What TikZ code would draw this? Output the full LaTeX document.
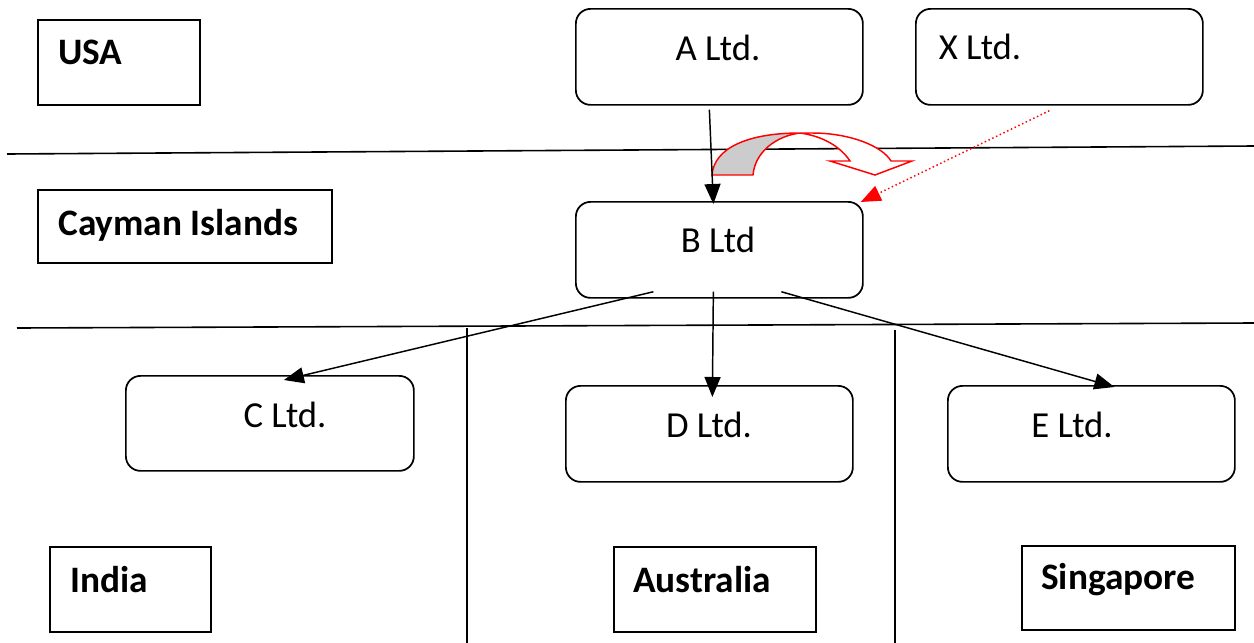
\documentclass[tikz,border=0pt]{standalone}
\usepackage{fontspec}
\setmainfont{Carlito}
\usetikzlibrary{arrows.meta,calc}
\begin{document}
\begin{tikzpicture}[x=0.75pt,y=-0.75pt,
  region/.style={draw,line width=1.3pt,inner sep=0pt,anchor=north west},
  entity/.style={draw,line width=1.3pt,rounded corners=11pt,inner sep=0pt,anchor=north west},
  rtext/.style={anchor=west,inner sep=0pt,font=\fontsize{28}{32}\selectfont\bfseries},
  etext/.style={inner sep=0pt,font=\fontsize{27.5}{32}\selectfont},
  sep/.style={line width=1.2pt},
  link/.style={line width=1.1pt,-{Triangle[length=15pt,width=12pt]}},
  rlink/.style={red,line width=1.1pt,dotted,-{Triangle[length=15pt,width=12pt]}}]
\useasboundingbox (0,0) rectangle (1254,643);
% separators
\coordinate (h1a) at (7,154); \coordinate (h1b) at (1254,146);
\coordinate (h2a) at (17,328); \coordinate (h2b) at (1254,323);
\coordinate (v1a) at (467,328); \coordinate (v1b) at (467,643);
\coordinate (v2a) at (895,330); \coordinate (v2b) at (895,643);
\draw[sep] (h1a) -- (h1b);
\draw[sep] (h2a) -- (h2b);
\draw[sep] (v1a) -- (v1b);
\draw[sep] (v2a) -- (v2b);
% region boxes
\node[region,minimum width=162*0.75pt,minimum height=85*0.75pt] (usa) at (37,19) {};
\node[rtext] (usat) at (58,52) {USA};
\node[region,minimum width=294*0.75pt,minimum height=73*0.75pt] (cay) at (37,189) {};
\node[rtext] (cayt) at (58,225) {Cayman Islands};
\node[region,minimum width=161*0.75pt,minimum height=85*0.75pt] (ind) at (49,546) {};
\node[rtext] (indt) at (70,580) {India};
\node[region,minimum width=202*0.75pt,minimum height=85*0.75pt] (aus) at (613,546) {};
\node[rtext] (aust) at (633,580) {Australia};
\node[region,minimum width=213*0.75pt,minimum height=84*0.75pt] (sin) at (1021,545) {};
\node[rtext] (sint) at (1041,580) {Singapore};
% entity boxes
\node[entity,minimum width=287*0.75pt,minimum height=96*0.75pt] (A) at (575,8) {};
\node[etext] at (718,48) {A Ltd.};
\node[entity,minimum width=287*0.75pt,minimum height=96*0.75pt] (X) at (915,8) {};
\node[etext] at (980,47) {X Ltd.};
\node[entity,minimum width=287*0.75pt,minimum height=96*0.75pt] (B) at (575,201) {};
\node[etext] at (718,240) {B Ltd};
\node[entity,minimum width=288*0.75pt,minimum height=95*0.75pt] (C) at (125,375) {};
\node[etext] at (285,415) {C Ltd.};
\node[entity,minimum width=287*0.75pt,minimum height=96*0.75pt] (D) at (565,385) {};
\node[etext] at (709,425) {D Ltd.};
\node[entity,minimum width=287*0.75pt,minimum height=96*0.75pt] (E) at (947,385) {};
\node[etext] at (1072,425) {E Ltd.};
% curved arrow
\draw[red,line width=1.1pt,fill=gray!40,line join=miter]
  (712,175) .. controls (714,148) and (748,133) .. (800,133)
  .. controls (776,136) and (755,152) .. (753,175) -- cycle;
\draw[red,line width=1.1pt,fill=white,line join=miter]
  (800,133) -- (812,133) .. controls (850,133) and (882,146) .. (891,161)
  -- (912,161) -- (875,175) -- (830,161) -- (850,161)
  .. controls (840,146) and (822,136) .. (800,133);
% connectors
\draw[link] ($(A.south)+(-10,4)$) -- ($(B.north)+(-6,3)$);
\draw[rlink] ($(X.south)+(-10,5)$) -- ($(B.north east)+(-3,1)$);
\draw[link] ($(B.south)+(-66,-7)$) -- ($(C.north)+(14,5)$);
\draw[link] ($(B.south)+(-6,-7)$) -- ($(D.north)+(3,12)$);
\draw[link] ($(B.south)+(62,-7)$) -- ($(E.north)+(23,2)$);
\end{tikzpicture}
\end{document}
